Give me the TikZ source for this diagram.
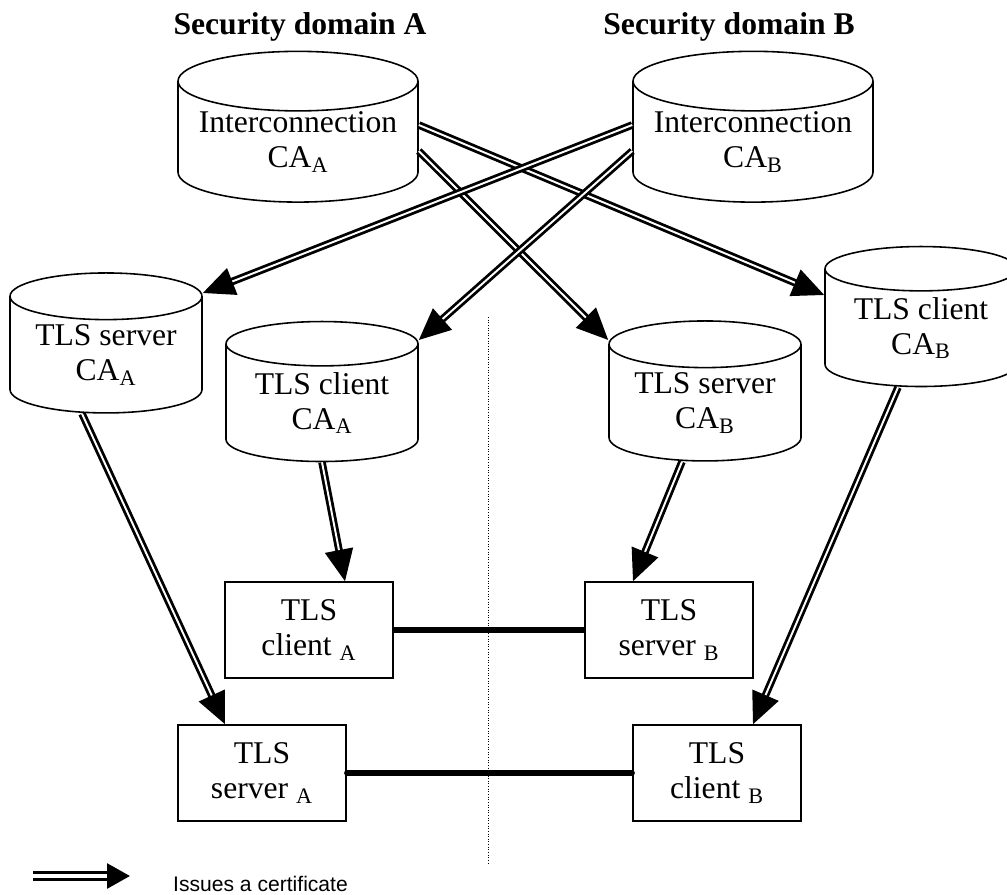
\documentclass[tikz,border=0pt]{standalone}
\usepackage{fontspec}
\setmainfont{Liberation Serif}
\newfontfamily\legendfont{Liberation Sans}
\usetikzlibrary{shapes.geometric,arrows.meta,calc}

\tikzset{
  castore/.style={cylinder, shape border rotate=90, draw, line width=0.9pt,
    align=center, inner sep=0pt, font=\fontsize{18}{20}\selectfont,
    minimum width=4.8cm, minimum height=2.88cm, aspect=0.3},
  smallstore/.style={castore, minimum width=3.84cm, minimum height=2.8cm, aspect=0.33},
  endpoint/.style={draw, line width=0.9pt, align=center, inner sep=0pt,
    minimum width=3.36cm, minimum height=1.92cm, font=\fontsize{18}{20}\selectfont},
  domtitle/.style={anchor=base, font=\fontsize{18}{20}\selectfont\bfseries},
  issues/.style={double, double distance=1.1pt, line width=1.6pt,
    -{Triangle[length=18pt,width=16pt]}},
  tlslink/.style={line width=3pt},
}

\begin{document}
\begin{tikzpicture}[x=0.02cm, y=-0.02cm]
\useasboundingbox (0,0) rectangle (1007,895);

\node[domtitle] (domA) at (300,35) {Security domain A};
\node[domtitle] (domB) at (729,35) {Security domain B};

\node[castore] (icaA) at (298,142) {Interconnection\\CA\textsubscript{A}};
\node[castore] (icaB) at (753,142) {Interconnection\\CA\textsubscript{B}};

\node[smallstore] (tsA) at (106,355) {TLS server\\CA\textsubscript{A}};
\node[smallstore] (tcA) at (322,403) {TLS client\\CA\textsubscript{A}};
\node[smallstore] (tsB) at (705,403) {TLS server\\CA\textsubscript{B}};
\node[smallstore] (tcB) at (921,328) {TLS client\\CA\textsubscript{B}};

\node[endpoint] (clA) at (309,630) {TLS\\client \textsubscript{A}};
\node[endpoint] (svB) at (669,630) {TLS\\server \textsubscript{B}};
\node[endpoint] (svA) at (262,773) {TLS\\server \textsubscript{A}};
\node[endpoint] (clB) at (717,773) {TLS\\client \textsubscript{B}};

\coordinate (divtop) at (488,317);
\coordinate (divbot) at (488,865);
\draw[densely dotted, line width=0.5pt] (divtop) -- (divbot);

\draw[issues] ($(icaA.east)+(0,-17)$) -- ($(tcB.west)+(0,-33)$);
\draw[issues] ($(icaA.east)+(0,9)$) -- ($(tsB.west)+(0,-63)$);
\draw[issues] ($(icaB.west)+(0,-17)$) -- ($(tsA.east)+(0,-62)$);
\draw[issues] ($(icaB.west)+(0,9)$) -- ($(tcA.east)+(0,-63)$);

\draw[issues] ($(tsA.south)+(-24,0)$) -- ($(svA.north)+(-37,0)$);
\draw[issues] (tcA.south) -- ($(clA.north)+(36,0)$);
\draw[issues] ($(tsB.south)+(-23,0)$) -- ($(svB.north)+(-36,0)$);
\draw[issues] ($(tcB.south)+(-23,0)$) -- ($(clB.north)+(36,0)$);

\draw[tlslink] (clA.east) -- (svB.west);
\draw[tlslink, line cap=round] (svA.east) -- (clB.west);

\coordinate (legfrom) at (33,876);
\coordinate (legto) at (130,876);
\draw[issues, double distance=1.8pt, line width=2pt,
  -{Triangle[length=13pt,width=14pt]}] (legfrom) -- (legto);
\node[anchor=base west, font=\legendfont\fontsize{12}{14}\selectfont] (legtext)
  at (167,891) {Issues a certificate};
\end{tikzpicture}
\end{document}
